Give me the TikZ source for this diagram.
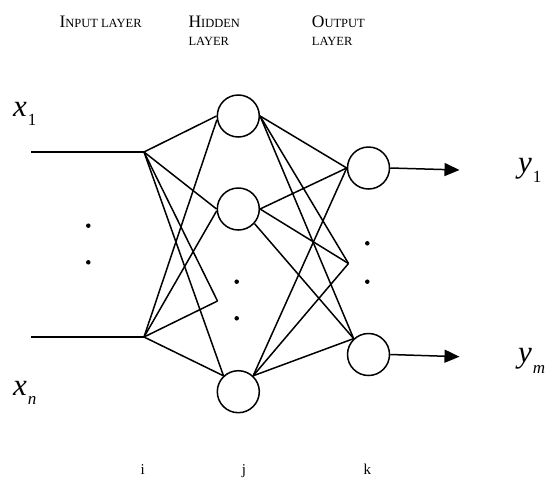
\documentclass[tikz,border=0pt]{standalone}
\usepackage{fontspec}
\setmainfont{Liberation Serif}
\usetikzlibrary{arrows.meta}
\newcommand{\capbig}{\fontsize{17.5}{18}\selectfont}
\newcommand{\capsmall}{\fontsize{12.5}{18}\selectfont}
\newcommand{\varfont}{\fontsize{31}{32}\selectfont\itshape}
\newcommand{\subfont}{\fontsize{17}{17}\selectfont}
\newcommand{\idxfont}{\fontsize{15}{15}\selectfont}
\begin{document}
\begin{tikzpicture}[x=1pt,y=-1pt,
  neuron/.style={circle, draw, minimum size=42pt, inner sep=0pt, line width=1.5pt},
  dotmark/.style={circle, fill, inner sep=0pt, minimum size=4.5pt},
  link/.style={line width=1.5pt},
  outarrow/.style={line width=1.5pt, -{Triangle[length=15pt,width=13pt]}},
  title/.style={anchor=base west, inner sep=0pt},
  varlabel/.style={anchor=base west, inner sep=0pt},
  idx/.style={anchor=base, inner sep=0pt, font=\idxfont}]
\useasboundingbox (0,0) rectangle (548,477);

% titles
\node[title] (tin) at (59.3,27.3) {\capbig I\capsmall NPUT LAYER};
\node[title] (thid1) at (188.3,27.3) {\capbig H\capsmall IDDEN};
\node[title] (thid2) at (188.3,45) {\capsmall LAYER};
\node[title] (tout1) at (311.7,27.3) {\capbig O\capsmall UTPUT};
\node[title] (tout2) at (311.7,45) {\capsmall LAYER};

% variable labels
\node[varlabel] (lx1) at (13,116.7) {\varfont x\kern1pt\raisebox{-9pt}{\subfont\upshape 1}};
\node[varlabel] (lxn) at (13,395.7) {\varfont x\kern1pt\raisebox{-8.5pt}{\subfont n}};
\node[varlabel] (ly1) at (518,172.8) {\varfont y\kern1pt\raisebox{-10pt}{\subfont\upshape 1}};
\node[varlabel] (lym) at (518,362.8) {\varfont y\kern1pt\raisebox{-11pt}{\subfont m}};

% layer indices
\node[idx] (li) at (142.7,474) {i};
\node[idx] (lj) at (244,474) {j};
\node[idx] (lk) at (367.3,474) {k};

% coordinates and neurons
\coordinate (X1) at (31,152);
\coordinate (XN) at (31,337);
\coordinate (A) at (144,152);
\coordinate (B) at (144,337);
\node[neuron] (H1) at (238.3,116) {};
\node[neuron] (H2) at (238.3,209) {};
\node[neuron] (H3) at (238.3,391.7) {};
\coordinate (HP) at (217.5,301);
\node[neuron] (O1) at (368.5,168) {};
\node[neuron] (O2) at (368.5,354.5) {};
\coordinate (OP) at (348.5,263.5);
\coordinate (Y1) at (459.5,170);
\coordinate (YM) at (459.5,356.7);

% dots
\node[dotmark] (d1) at (88.3,225.7) {};
\node[dotmark] (d2) at (88.3,262.3) {};
\node[dotmark] (d3) at (236.7,281.7) {};
\node[dotmark] (d4) at (236.7,318.3) {};
\node[dotmark] (d5) at (367.3,243.3) {};
\node[dotmark] (d6) at (367.3,281.7) {};

% input lines
\draw[link] (X1) -- (A);
\draw[link] (XN) -- (B);

% input -> hidden
\draw[link] (A) -- (H1.west);
\draw[link] (A) -- (H2.west);
\draw[link] (A) -- (HP);
\draw[link] (A) -- (H3.133);
\draw[link] (B) -- (H1.190);
\draw[link] (B) -- (H2.185);
\draw[link] (B) -- (HP);
\draw[link] (B) -- (H3.133);

% hidden -> output
\draw[link] (H1.east) -- (O1.west);
\draw[link] (H1.east) -- (OP);
\draw[link] (H1.east) -- (O2.133);
\draw[link] (H2.east) -- (O1.west);
\draw[link] (H2.east) -- (OP);
\draw[link] (H2.-42) -- (O2.133);
\draw[link] (H3.47) -- (O1.west);
\draw[link] (H3.47) -- (OP);
\draw[link] (H3.47) -- (O2.133);

% outputs
\draw[outarrow] (O1.east) -- (Y1);
\draw[outarrow] (O2.east) -- (YM);
\end{tikzpicture}
\end{document}
